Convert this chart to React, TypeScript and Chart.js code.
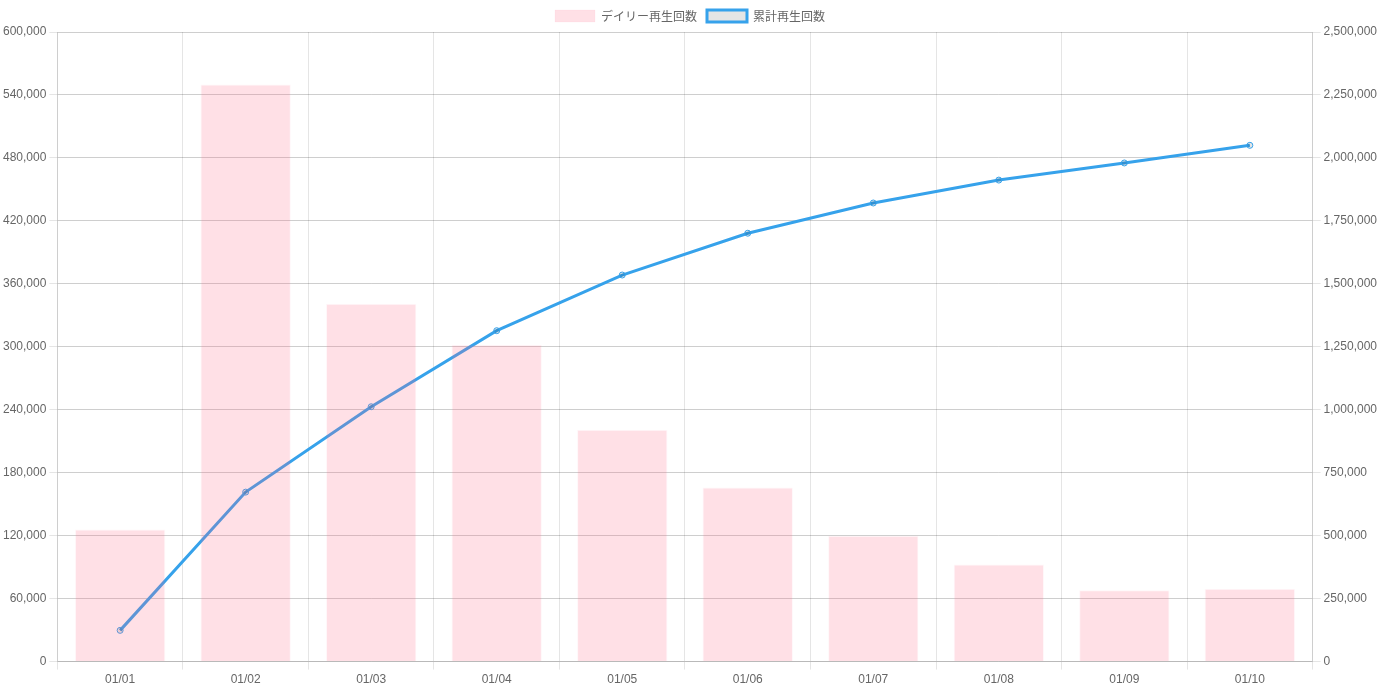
import React, { useEffect, useRef } from "react";
import { Chart, registerables } from "chart.js";

Chart.register(...registerables);

const categories = ["01/01", "01/02", "01/03", "01/04", "01/05", "01/06", "01/07", "01/08", "01/09", "01/10"];
const dailyPlays = [126000, 550000, 341000, 302000, 221000, 166000, 120000, 92500, 68000, 69500];
const cumulativePlays = [124000, 673000, 1012000, 1314000, 1535000, 1701000, 1821000, 1912000, 1980000, 2050000];
const dailyLabel = "デイリー再生回数";
const cumulativeLabel = "累計再生回数";

export default function App() {
  const ref = useRef<HTMLCanvasElement>(null);
  useEffect(() => {
    document.body.style.margin = "0";
    const fmt = (v: any) => Number(v).toLocaleString("en-US");
    const chart = new Chart(ref.current!, {
      type: "bar",
      data: {
        labels: categories,
        datasets: [
          {
            type: "bar",
            label: dailyLabel,
            data: dailyPlays,
            backgroundColor: "rgba(255, 99, 132, 0.2)",
            borderColor: "rgba(255, 99, 132, 0.05)",
            borderWidth: 1,
            yAxisID: "y",
          },
          {
            type: "line",
            label: cumulativeLabel,
            data: cumulativePlays,
            borderColor: "rgb(54, 162, 235)",
            backgroundColor: "rgba(0, 0, 0, 0.1)",
            borderWidth: 3,
            pointRadius: 3,
            pointBorderWidth: 1,
            tension: 0,
            fill: false,
            yAxisID: "y1",
          },
        ],
      },
      options: {
        responsive: true,
        maintainAspectRatio: false,
        animation: false,
        plugins: {
          legend: {
            position: "top",
            labels: { color: "#666", font: { family: "'Noto Sans CJK JP', Arial, sans-serif", size: 12 } },
          },
          tooltip: { enabled: false },
        },
        scales: {
          x: {
            ticks: { color: "#666", font: { family: "Arial", size: 12 } },
            grid: { color: "rgba(0,0,0,0.1)" },
          },
          y: {
            position: "left",
            min: 0,
            max: 600000,
            ticks: { stepSize: 60000, color: "#666", font: { family: "Arial", size: 12 }, callback: fmt },
            grid: { color: "rgba(0,0,0,0.1)" },
          },
          y1: {
            position: "right",
            min: 0,
            max: 2500000,
            ticks: { stepSize: 250000, color: "#666", font: { family: "Arial", size: 12 }, callback: fmt },
            grid: { color: "rgba(0,0,0,0.1)" },
          },
        },
      },
    });
    return () => chart.destroy();
  }, []);
  return (
    <div style={{ width: 1380, height: 690, position: "relative" }}>
      <canvas ref={ref} />
    </div>
  );
}
